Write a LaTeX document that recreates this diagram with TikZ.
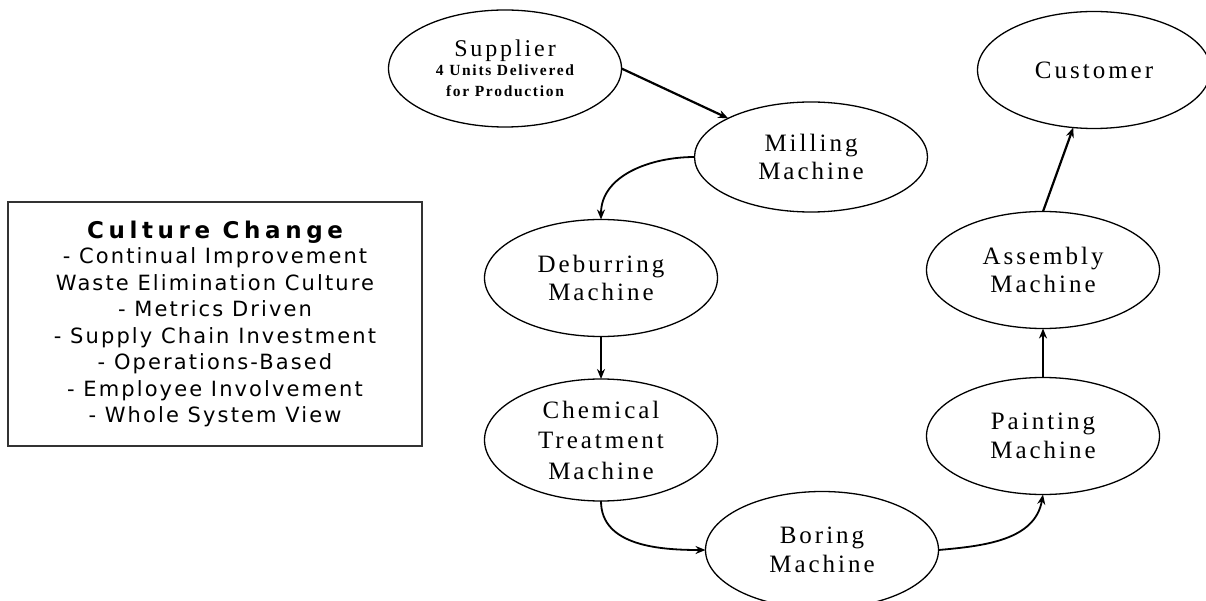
\documentclass[tikz,border=0pt]{standalone}
\usepackage{fontspec}
\usetikzlibrary{shapes.geometric,arrows.meta}
\newfontfamily\nodefont[LetterSpace=12]{Liberation Serif}
\newfontfamily\smallnodefont[LetterSpace=11]{Liberation Serif}
\newfontfamily\boxfont[LetterSpace=10]{DejaVu Sans}
\newfontfamily\boxtitlefont[LetterSpace=20]{DejaVu Sans}
\begin{document}
\begin{tikzpicture}[x=1pt,y=1pt,
  stage/.style={draw=black, line width=1.3pt, ellipse, minimum width=233pt,
    minimum height=117pt, inner sep=0pt, outer sep=0pt, align=center,
    font=\nodefont\fontsize{25}{28.5}\selectfont},
  flow/.style={draw=black, line width=2.2pt, -{Stealth[length=10pt,width=8pt]}},
  curvedflow/.style={draw=black, line width=1.8pt, -{Stealth[length=10pt,width=8pt]}},
  culture/.style={draw=black!80, line width=1.8pt, rectangle, minimum width=414pt,
    minimum height=244pt, inner sep=0pt, outer sep=0pt, align=center,
    font=\boxfont\fontsize{21}{26.5}\selectfont}]
\useasboundingbox (0,0) rectangle (1206,-601);
\fill[white] (0,0) rectangle (1206,-601);

\node[culture] (box) at (215,-324) {{\boxtitlefont\bfseries\fontsize{23}{23}\selectfont Culture Change}\\[-1.5pt]
- Continual Improvement\\
Waste Elimination Culture\\
- Metrics Driven\\
- Supply Chain Investment\\
- Operations-Based\\
- Employee Involvement\\
- Whole System View};

\node[stage, font=\smallnodefont\bfseries\fontsize{15.5}{21}\selectfont] (sup) at (505,-68.5)
  {{\nodefont\mdseries\fontsize{24}{24}\selectfont Supplier}\\[-2pt] 4 Units Delivered\\ for Production};
\node[stage, minimum height=110pt] (mill) at (811,-157) {Milling\\ Machine};
\node[stage] (deb) at (601,-278) {Deburring\\ Machine};
\node[stage, minimum height=122pt, font=\nodefont\fontsize{25}{30.5}\selectfont] (chem) at (601,-440) {Chemical\\ Treatment\\ Machine};
\node[stage] (bor) at (822,-550) {Boring\\ Machine};
\node[stage] (pai) at (1043,-436) {Painting\\ Machine};
\node[stage] (asm) at (1043,-270) {Assembly\\ Machine};
\node[stage] (cust) at (1094,-70) {Customer};

\draw[flow] (sup.east) -- (mill);
\draw[curvedflow] (mill.west) to[out=180,in=90] (deb.north);
\draw[flow] (deb.south) -- (chem.north);
\draw[curvedflow] (chem.south) to[out=-90,in=180] (bor.west);
\draw[curvedflow] (bor.east) to[out=5,in=-100] (pai.south);
\draw[flow] (pai.north) -- (asm.south);
\draw[flow] (asm.north) -- (cust);
\end{tikzpicture}
\end{document}
